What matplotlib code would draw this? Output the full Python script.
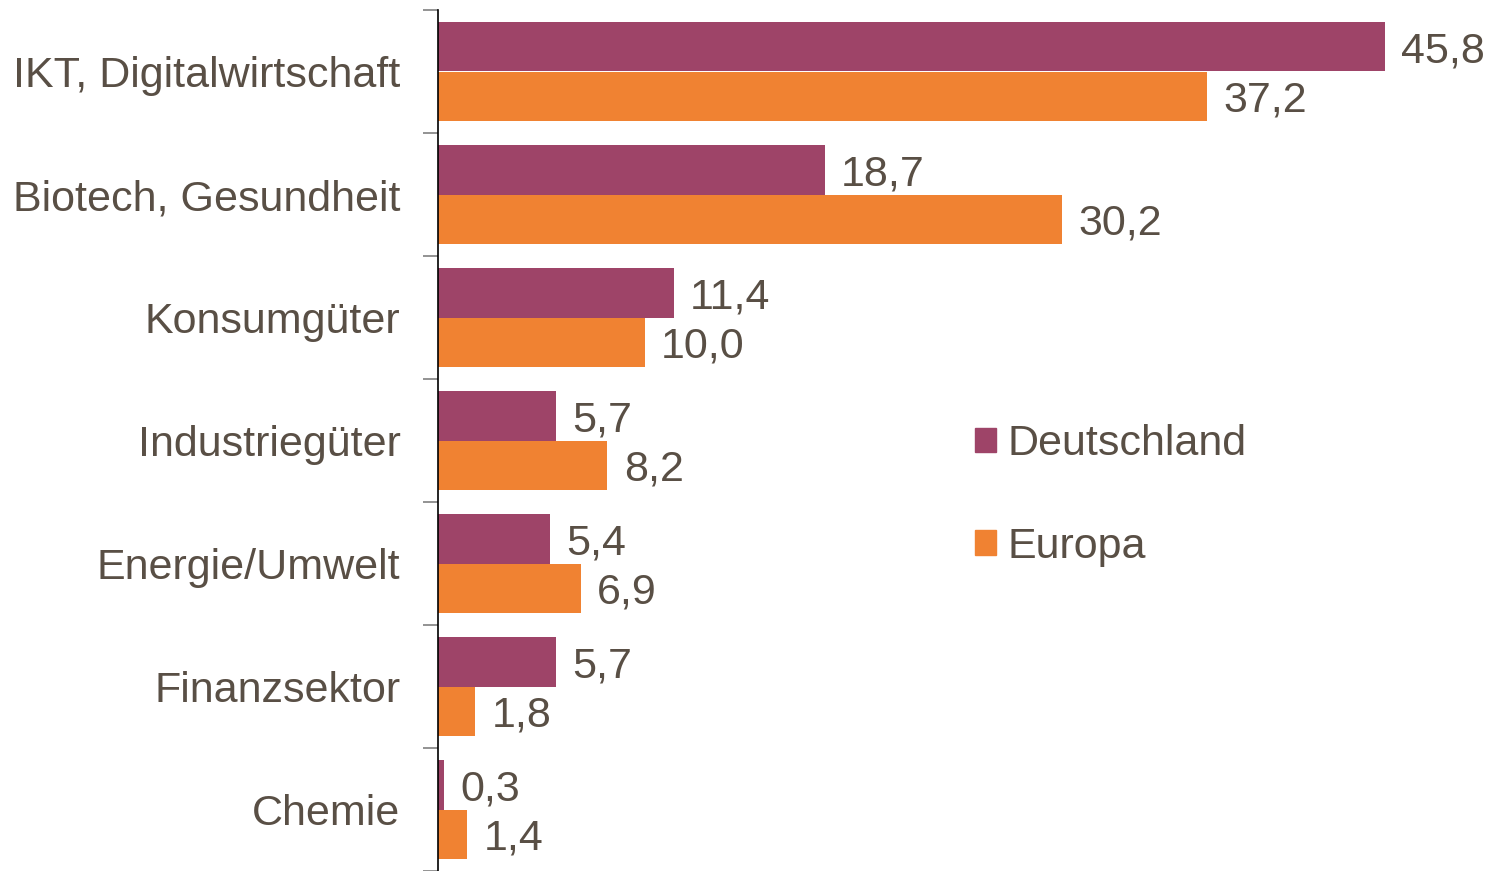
import numpy as np
import matplotlib.pyplot as plt
from matplotlib.patches import Patch

plt.rcParams['font.family'] = ['Liberation Sans', 'DejaVu Sans']

# Anteile je Branche (%)
branchen = ['IKT, Digitalwirtschaft', 'Biotech, Gesundheit', 'Konsumgüter',
            'Industriegüter', 'Energie/Umwelt', 'Finanzsektor', 'Chemie']
deutschland = [45.8, 18.7, 11.4, 5.7, 5.4, 5.7, 0.3]
europa = [37.2, 30.2, 10.0, 8.2, 6.9, 1.8, 1.4]

farbe_de = '#9e4468'
farbe_eu = '#f08232'
textfarbe = '#594f45'
fs = 31

fig = plt.figure(figsize=(14.88, 8.71), dpi=100)
ax = fig.add_axes([438/1488, 0.0, 1 - 438/1488, 861/871])

y = np.arange(len(branchen))
h = 0.4
ax.barh(y - h/2, deutschland, height=h, color=farbe_de)
ax.barh(y + h/2, europa, height=h, color=farbe_eu)

# Werte neben die Balken schreiben
for yi, d, e in zip(y, deutschland, europa):
    ax.text(d + 0.8, yi - h/2, f'{d:.1f}'.replace('.', ','), va='center_baseline',
            ha='left', fontsize=fs, color=textfarbe)
    ax.text(e + 0.8, yi + h/2, f'{e:.1f}'.replace('.', ','), va='center_baseline',
            ha='left', fontsize=fs, color=textfarbe)

ax.set_xlim(0, 50.8)
ax.set_ylim(len(branchen) - 0.5, -0.5)
ax.set_yticks(y)
ax.set_yticklabels(branchen, fontsize=fs, color=textfarbe)
ax.tick_params(axis='y', which='major', length=0, pad=27)
ax.set_yticks(np.arange(-0.5, len(branchen) + 0.5), minor=True)
ax.tick_params(axis='y', which='minor', length=11, width=1.2, color='#808080')
ax.set_xticks([])

for s in ['top', 'right', 'bottom']:
    ax.spines[s].set_visible(False)
ax.spines['left'].set_color('black')
ax.spines['left'].set_linewidth(1.2)

handles = [Patch(color=farbe_de, label='Deutschland'), Patch(color=farbe_eu, label='Europa')]
leg = ax.legend(handles=handles, loc='upper left', bbox_to_anchor=(0.511, 0.519),
                frameon=False, fontsize=fs, handlelength=0.5, handleheight=0.5,
                handletextpad=0.26, labelspacing=1.45, borderaxespad=0, borderpad=0)
for t in leg.get_texts():
    t.set_color(textfarbe)

fig.savefig('out.png', dpi=100)
